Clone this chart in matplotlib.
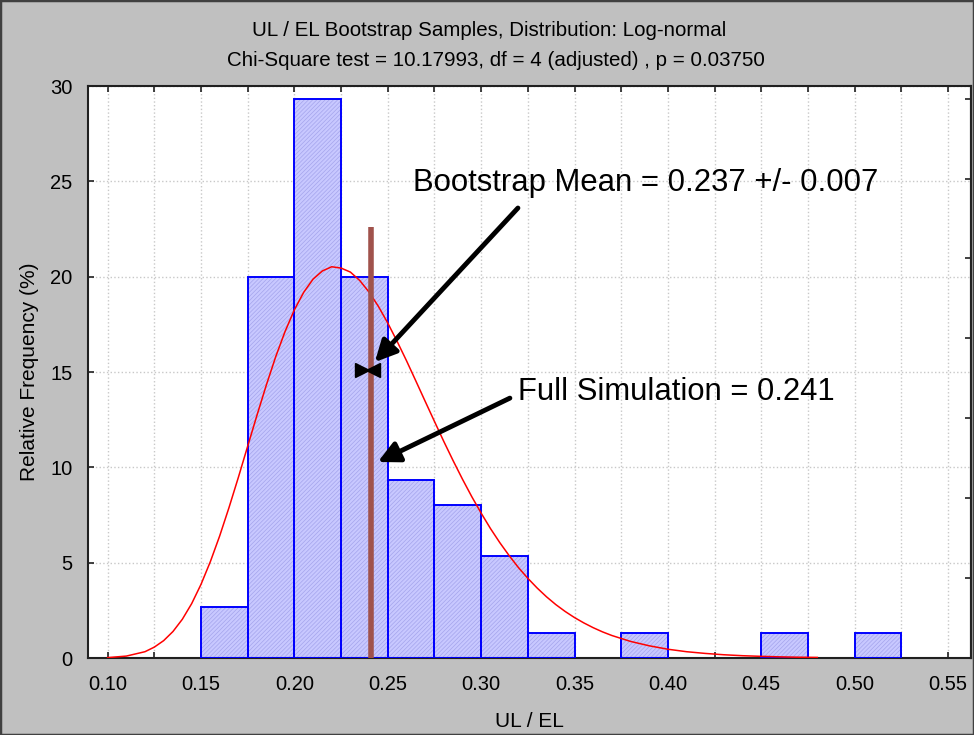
import matplotlib
matplotlib.use('Agg')
import matplotlib.pyplot as plt
from matplotlib.patches import Rectangle
import numpy as np

plt.rcParams['font.family'] = ['Liberation Sans', 'DejaVu Sans']
plt.rcParams['hatch.linewidth'] = 0.5

# ---- data ----
bin_left = [0.150, 0.175, 0.200, 0.225, 0.250, 0.275, 0.300, 0.325, 0.375, 0.450, 0.500]
rel_freq = [2.67, 20.0, 29.33, 20.0, 9.33, 8.0, 5.33, 1.33, 1.33, 1.33, 1.33]
bin_width = 0.025

# fitted log-normal curve (% per bin)
curve_x = [0.10, 0.11, 0.12, 0.125, 0.13, 0.135, 0.14, 0.145, 0.15, 0.155, 0.16,
           0.165, 0.17, 0.175, 0.18, 0.185, 0.19, 0.195, 0.20, 0.205, 0.21, 0.215,
           0.22, 0.225, 0.23, 0.235, 0.24, 0.245, 0.25, 0.255, 0.26, 0.265, 0.27,
           0.275, 0.28, 0.285, 0.29, 0.295, 0.30, 0.305, 0.31, 0.315, 0.32, 0.325,
           0.33, 0.335, 0.34, 0.345, 0.35, 0.355, 0.36, 0.365, 0.37, 0.38, 0.39,
           0.40, 0.41, 0.42, 0.43, 0.44, 0.45, 0.46, 0.47, 0.48]
curve_y = [0.02, 0.10, 0.33, 0.57, 0.91, 1.39, 2.03, 2.85, 3.86, 5.05, 6.40,
           7.89, 9.47, 11.11, 12.74, 14.32, 15.80, 17.12, 18.26, 19.18, 19.87, 20.30,
           20.52, 20.45, 20.24, 19.80, 19.19, 18.44, 17.57, 16.61, 15.60, 14.54, 13.47,
           12.41, 11.36, 10.35, 9.38, 8.46, 7.60, 6.79, 6.05, 5.37, 4.74, 4.18,
           3.67, 3.21, 2.80, 2.44, 2.12, 1.84, 1.59, 1.37, 1.18, 0.87, 0.64,
           0.46, 0.33, 0.24, 0.17, 0.12, 0.087, 0.06, 0.04, 0.03]

full_sim = 0.241
full_sim_top = 22.6
boot_marker_x = [0.2362, 0.2422]
boot_marker_y = 15.1

title1 = 'UL / EL Bootstrap Samples, Distribution: Log-normal'
title2 = 'Chi-Square test = 10.17993, df = 4 (adjusted) , p = 0.03750'
x_ticks = [0.10, 0.15, 0.20, 0.25, 0.30, 0.35, 0.40, 0.45, 0.50, 0.55]
y_ticks = [0, 5, 10, 15, 20, 25, 30]

fig = plt.figure(figsize=(9.74, 7.35), dpi=100, facecolor='#C0C0C0')
ax = fig.add_axes([88 / 974, 1 - 658 / 735, (971 - 88) / 974, (658 - 86) / 735])
ax.set_facecolor('white')

# grid
ax.set_xticks(np.arange(0.075, 0.575, 0.025), minor=True)
ax.grid(which='minor', axis='x', color='#C8C8C8', linestyle=':', linewidth=1.0)
ax.grid(which='major', axis='x', color='#C8C8C8', linestyle=':', linewidth=1.0)
ax.grid(which='major', axis='y', color='#C8C8C8', linestyle=':', linewidth=1.0)
ax.set_axisbelow(True)

# histogram bars: hatched fill, then blue outline
ax.bar(bin_left, rel_freq, width=bin_width, align='edge',
       facecolor='#C8C8FF', edgecolor='#A4A4EC', hatch='////////', linewidth=0, zorder=2)
ax.bar(bin_left, rel_freq, width=bin_width, align='edge',
       fill=False, edgecolor='#0000FF', linewidth=1.4, zorder=3)

ax.plot(curve_x, curve_y, color='#FF0000', linewidth=1.1, zorder=4)

ax.vlines(full_sim, 0, full_sim_top, color='#A0524C', linewidth=4, zorder=5)

ax.plot(boot_marker_x[0], boot_marker_y, marker='>', color='black', markersize=10, zorder=6)
ax.plot(boot_marker_x[1], boot_marker_y, marker='<', color='black', markersize=10, zorder=6)

arrow = dict(arrowstyle='-|>', color='black', lw=3.5, mutation_scale=32, shrinkA=0, shrinkB=0)
ax.annotate('', xy=(0.2431, 15.52), xytext=(0.3197, 23.6), arrowprops=arrow, zorder=7)
ax.annotate('', xy=(0.2447, 10.28), xytext=(0.3154, 13.63), arrowprops=arrow, zorder=7)
ax.text(0.2635, 24.9, 'Bootstrap Mean = 0.237 +/- 0.007', fontsize=22.4,
        ha='left', va='center', zorder=8)
ax.text(0.3197, 13.95, 'Full Simulation = 0.241', fontsize=22.3,
        ha='left', va='center', zorder=8)

ax.set_xlim(0.0895, 0.5623)
ax.set_ylim(0, 30)
ax.set_xticks(x_ticks)
ax.set_xticklabels([f'{t:.2f}' for t in x_ticks])
ax.set_yticks(y_ticks)
ax.tick_params(which='both', direction='in', top=True, bottom=True, left=True,
               length=4, width=1.2, labelsize=14.5, color='#202020')
ax.tick_params(axis='x', which='major', pad=12)
ax.tick_params(axis='y', which='major', pad=11)
for s in ax.spines.values():
    s.set_linewidth(1.5)
    s.set_color('#202020')

sec = ax.secondary_yaxis('right', functions=(lambda p: p / 1.397, lambda c: c * 1.397))
sec.set_yticks([3, 6, 9, 12, 15, 18, 21])
sec.set_yticklabels([])
sec.tick_params(direction='in', length=4, width=1.2, color='#202020')
sec.spines['right'].set_linewidth(1.5)

ax.set_xlabel('UL / EL', fontsize=15, labelpad=13)
ax.set_ylabel('Relative Frequency (%)', fontsize=15, labelpad=8)

fig.text(0.502, 1 - 30 / 735, title1, ha='center', va='center', fontsize=14.8)
fig.text(0.509, 1 - 61 / 735, title2, ha='center', va='center', fontsize=14.8)

fig.patches.append(Rectangle((0, 0), 1, 1, transform=fig.transFigure, fill=False,
                             edgecolor='#404040', linewidth=2.5))

fig.savefig('out.png', dpi=100, facecolor=fig.get_facecolor())
